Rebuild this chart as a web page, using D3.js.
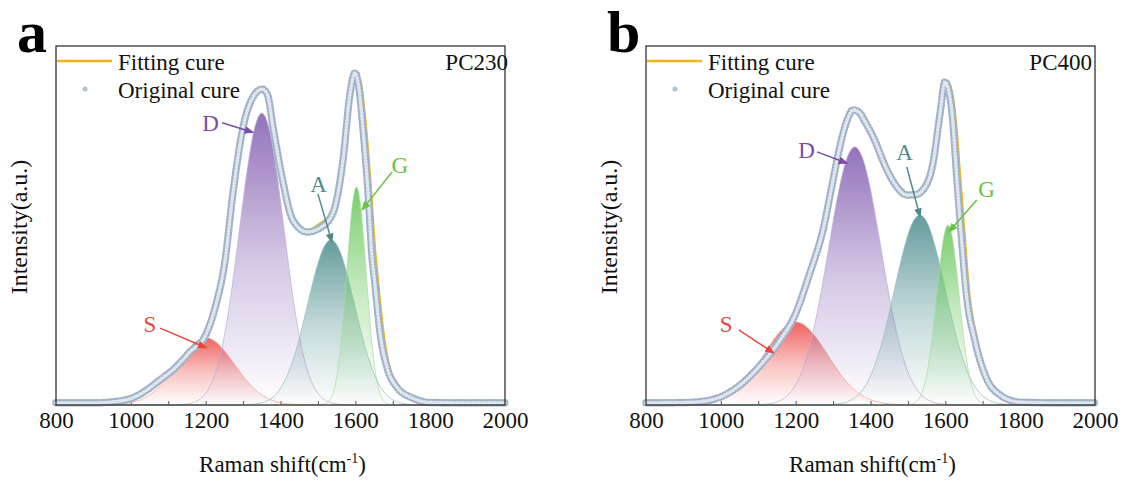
<!DOCTYPE html>
<html>
<head>
<meta charset="utf-8">
<script src="https://cdn.jsdelivr.net/npm/d3@7/dist/d3.min.js"></script>
<style>
  html, body { margin: 0; padding: 0; background: #ffffff; }
  svg { display: block; }
  text { font-family: "Liberation Serif", "Times New Roman", serif; }
</style>
</head>
<body>
<svg id="chart" width="1123" height="481"></svg>
<script>
// ---------- data ----------
// Raman shift axis (cm-1)
const xTicks = [800, 1000, 1200, 1400, 1600, 1800, 2000];
const peakNames = ["S", "D", "A", "G"];
const sampleNames = ["PC230", "PC400"];

// Measured spectrum [shift, intensity] — PC230
const pc230Original = [
  [800, 0.6], [900, 0.6], [960, 1.0], [1003, 1.9], [1040, 4.0], [1078, 7.0],
  [1118, 10.3], [1158, 14.8], [1200, 19.5], [1225, 27], [1252, 40.4], [1273, 59.1],
  [1300, 77.4], [1325, 85.5], [1351, 88.0], [1365, 86.5], [1380, 77.4], [1404, 63.5],
  [1433, 51.5], [1471, 48.2], [1505, 49.3], [1540, 53.5], [1567, 68.2], [1586, 86.9],
  [1599, 92.5], [1610, 88.0], [1620, 77.4], [1634, 59.1], [1644, 42.0], [1652, 34.0],
  [1666, 20.1], [1684, 10.7], [1710, 5.1], [1754, 1.9], [1800, 0.7], [1900, 0.6], [2000, 0.6]
];
// Fitted envelope — PC230
const pc230Fit = [
  [800, 0.3], [900, 0.4], [960, 0.8], [1003, 1.5], [1040, 3.3], [1078, 6.2],
  [1118, 9.8], [1158, 14.5], [1200, 19.5], [1225, 27], [1252, 40.4], [1273, 59.1],
  [1300, 77.4], [1325, 85.5], [1351, 88.0], [1365, 86.5], [1380, 77.4], [1404, 63.5],
  [1433, 51.5], [1471, 48.6], [1505, 50.5], [1540, 54.0], [1567, 68.2], [1586, 86.9],
  [1599, 92.5], [1613, 90.5], [1626, 80.0], [1641, 61.0], [1652, 44.0], [1660, 35.0],
  [1674, 21.0], [1690, 11.0], [1714, 5.2], [1756, 1.8], [1800, 0.6], [1900, 0.3], [2000, 0.3]
];
// Fitted bands — PC230
const pc230S = [
  [800, 0], [950, 0.1], [1000, 0.64], [1025, 1.4], [1050, 2.8], [1075, 5.0], [1100, 8.0],
  [1125, 11.6], [1150, 15.1], [1175, 17.7], [1200, 18.7], [1225, 17.7], [1250, 15.1],
  [1275, 11.6], [1300, 8.0], [1325, 5.0], [1350, 2.8], [1375, 1.4], [1400, 0.64],
  [1450, 0.1], [1600, 0], [2000, 0]
];
const pc230D = [
  [800, 0], [1110, 0], [1150, 0.26], [1170, 0.8], [1190, 2.1], [1210, 4.9], [1230, 10.3],
  [1250, 19.3], [1270, 32.4], [1290, 48.5], [1310, 64.6], [1330, 76.8], [1350, 81.3],
  [1370, 76.8], [1390, 64.6], [1410, 48.5], [1430, 32.4], [1450, 19.3], [1470, 10.3],
  [1490, 4.9], [1510, 2.1], [1530, 0.8], [1550, 0.26], [1590, 0], [2000, 0]
];
const pc230A = [
  [800, 0], [1295, 0], [1335, 0.3], [1355, 0.78], [1375, 1.8], [1395, 3.9], [1415, 7.5],
  [1435, 13.0], [1455, 20.5], [1475, 29.2], [1495, 37.6], [1515, 43.7], [1535, 46.0],
  [1555, 43.7], [1575, 37.6], [1595, 29.2], [1615, 20.5], [1635, 13.0], [1655, 7.5],
  [1675, 3.9], [1695, 1.8], [1715, 0.78], [1735, 0.3], [1775, 0], [2000, 0]
];
const pc230G = [
  [800, 0], [1503, 0], [1523, 0.5], [1533, 1.6], [1543, 4.2], [1553, 9.6], [1563, 18.6],
  [1573, 31.2], [1583, 45.1], [1593, 56.4], [1603, 60.7], [1613, 56.4], [1623, 45.1],
  [1633, 31.2], [1643, 18.6], [1653, 9.6], [1663, 4.2], [1673, 1.6], [1683, 0.5],
  [1703, 0], [2000, 0]
];

// Measured spectrum [shift, intensity] — PC400
const pc400Original = [
  [800, 0.6], [900, 0.7], [950, 1.0], [998, 2.2], [1051, 5.5], [1105, 11.0],
  [1158, 18.0], [1198, 25.0], [1238, 36.8], [1273, 48.7], [1300, 62.7], [1318, 71.9],
  [1340, 80.0], [1353, 82.2], [1370, 81.5], [1385, 79.0], [1407, 74.7], [1444, 65.5],
  [1471, 60.7], [1497, 58.5], [1520, 58.6], [1540, 59.9], [1567, 67.4], [1586, 81.3],
  [1599, 90.0], [1608, 88.0], [1618, 81.3], [1631, 62.7], [1645, 44.0], [1655, 32.0],
  [1679, 18.0], [1706, 8.4], [1746, 2.8], [1800, 0.8], [1900, 0.6], [2000, 0.6]
];
// Fitted envelope — PC400
const pc400Fit = [
  [800, 0.3], [900, 0.4], [950, 0.8], [998, 1.8], [1051, 5.0], [1105, 10.6],
  [1158, 17.6], [1198, 25.0], [1238, 36.8], [1273, 48.7], [1300, 62.7], [1318, 71.9],
  [1340, 80.0], [1353, 82.2], [1370, 81.5], [1385, 79.0], [1407, 74.7], [1444, 65.5],
  [1471, 60.7], [1497, 58.5], [1520, 58.6], [1540, 59.9], [1567, 67.4], [1586, 81.3],
  [1599, 90.0], [1610, 89.5], [1626, 81.0], [1640, 63.0], [1653, 45.0], [1662, 33.0],
  [1684, 18.5], [1710, 8.5], [1750, 2.8], [1800, 0.7], [1900, 0.3], [2000, 0.3]
];
// Fitted bands — PC400
const pc400S = [
  [800, 0], [900, 0], [950, 0.3], [975, 0.7], [1000, 1.45], [1025, 2.8], [1050, 4.9],
  [1075, 7.8], [1100, 11.6], [1125, 15.7], [1150, 19.4], [1175, 22.1], [1200, 23.1],
  [1225, 22.1], [1250, 19.4], [1275, 15.7], [1300, 11.6], [1325, 7.8], [1350, 4.9],
  [1375, 2.8], [1400, 1.45], [1425, 0.7], [1450, 0.3], [1500, 0], [2000, 0]
];
const pc400D = [
  [800, 0], [1078, 0], [1118, 0.2], [1138, 0.5], [1158, 1.2], [1178, 2.6], [1198, 5.3],
  [1218, 9.7], [1238, 16.5], [1258, 25.9], [1278, 37.4], [1298, 49.8], [1318, 61.1],
  [1338, 69.0], [1358, 71.9], [1378, 69.0], [1398, 61.1], [1418, 49.8], [1438, 37.4],
  [1458, 25.9], [1478, 16.5], [1498, 9.7], [1518, 5.3], [1538, 2.6], [1558, 1.2],
  [1578, 0.5], [1598, 0.2], [1638, 0], [2000, 0]
];
const pc400A = [
  [800, 0], [1272, 0], [1312, 0.3], [1332, 0.7], [1352, 1.6], [1372, 3.3], [1392, 6.4],
  [1412, 11.2], [1432, 17.9], [1452, 26.5], [1472, 35.9], [1492, 44.5], [1512, 50.7],
  [1532, 52.9], [1552, 50.7], [1572, 44.5], [1592, 35.9], [1612, 26.5], [1632, 17.9],
  [1652, 11.2], [1672, 6.4], [1692, 3.3], [1712, 1.6], [1732, 0.7], [1752, 0.3],
  [1792, 0], [2000, 0]
];
const pc400G = [
  [800, 0], [1487, 0], [1507, 0.2], [1517, 0.56], [1527, 1.4], [1537, 3.3], [1547, 6.8],
  [1557, 12.5], [1567, 20.6], [1577, 30.4], [1587, 40.1], [1597, 47.4], [1607, 50.1],
  [1617, 47.4], [1627, 40.1], [1637, 30.4], [1647, 20.6], [1657, 12.5], [1667, 6.8],
  [1677, 3.3], [1687, 1.4], [1697, 0.56], [1707, 0.2], [1727, 0], [2000, 0]
];

// Band annotations: label anchor and arrow [fromX, fromY, toX, toY] in data units
const pc230Labels = [[1051, 20.3], [1213, 76.3], [1502, 59.3], [1719, 64.6]];
const pc230Arrows = [
  [1078, 21.4, 1200, 16.0], [1244, 78.6, 1325, 76.0],
  [1500, 58.8, 1537, 45.6], [1698, 64.9, 1619, 54.5]
];
const pc400Labels = [[1014, 20.3], [1229, 68.8], [1491, 68.2], [1710, 57.9]];
const pc400Arrows = [
  [1048, 20.9, 1140, 14.6], [1257, 70.5, 1336, 67.4],
  [1497, 66.3, 1532, 52.6], [1684, 57.1, 1611, 48.4]
];

// ---------- styling ----------
const bandColors = {
  S: { label: "#e8463e", fill: "#ef5c58", line: "#f2a3a0" },
  D: { label: "#7a4ea6", fill: "#8d6bb8", line: "#bcaad6" },
  A: { label: "#4f8b8b", fill: "#5c9797", line: "#98bdbd" },
  G: { label: "#67c341", fill: "#72cc66", line: "#a6dc9d" }
};

const panels = [
  { letter: "a", name: sampleNames[0], left: 56, right: 505, original: pc230Original,
    fit: pc230Fit, bands: [pc230S, pc230D, pc230A, pc230G],
    labels: pc230Labels, arrows: pc230Arrows, nameEnd: 508 },
  { letter: "b", name: sampleNames[1], left: 646, right: 1095, original: pc400Original,
    fit: pc400Fit, bands: [pc400S, pc400D, pc400A, pc400G],
    labels: pc400Labels, arrows: pc400Arrows, nameEnd: 1092 }
];

const plotTop = 46, plotBottom = 405;
const svg = d3.select("#chart");
const defs = svg.append("defs");

// vertical fade gradients for band fills, and arrowheads
peakNames.forEach(p => {
  const g = defs.append("linearGradient")
    .attr("id", "grad-" + p)
    .attr("x1", 0).attr("y1", 0).attr("x2", 0).attr("y2", 1);
  g.append("stop").attr("offset", "0%").attr("stop-color", bandColors[p].fill).attr("stop-opacity", 0.95);
  g.append("stop").attr("offset", "50%").attr("stop-color", bandColors[p].fill).attr("stop-opacity", 0.38);
  g.append("stop").attr("offset", "100%").attr("stop-color", bandColors[p].fill).attr("stop-opacity", 0.0);
  defs.append("marker")
    .attr("id", "arrow-" + p)
    .attr("viewBox", "0 0 10 10")
    .attr("refX", 8).attr("refY", 5)
    .attr("markerWidth", 6.5).attr("markerHeight", 6.5)
    .attr("markerUnits", "strokeWidth")
    .attr("orient", "auto")
    .append("path")
    .attr("d", "M0,1 L10,5 L0,9 Z")
    .attr("fill", bandColors[p].label);
});

panels.forEach(panel => {
  const x = d3.scaleLinear().domain([800, 2000]).range([panel.left, panel.right]);
  const y = d3.scaleLinear().domain([0, 100]).range([plotBottom, plotTop]);
  const g = svg.append("g");

  // x axis with inward ticks every 100 cm-1
  const axis = d3.axisBottom(x)
    .tickValues(d3.range(800, 2001, 100))
    .tickSize(-4)
    .tickPadding(7)
    .tickFormat(d => xTicks.includes(d) ? d : "");
  const ax = g.append("g").attr("transform", `translate(0,${plotBottom})`).call(axis);
  ax.select(".domain").remove();
  ax.selectAll(".tick line").attr("stroke", "#555").attr("stroke-width", 1);
  ax.selectAll(".tick text")
    .attr("font-size", 23)
    .attr("fill", "#111");

  const area = d3.area()
    .x(d => x(d[0])).y0(y(0)).y1(d => y(d[1]))
    .curve(d3.curveMonotoneX);
  const line = d3.line()
    .x(d => x(d[0])).y(d => y(d[1]))
    .curve(d3.curveMonotoneX);

  // fitted bands
  panel.bands.forEach((band, i) => {
    const p = peakNames[i];
    g.append("path").datum(band)
      .attr("d", area)
      .attr("fill", `url(#grad-${p})`);
    g.append("path").datum(band)
      .attr("d", line)
      .attr("fill", "none")
      .attr("stroke", bandColors[p].line)
      .attr("stroke-width", 0.7);
  });

  // fitted envelope
  g.append("path").datum(panel.fit)
    .attr("d", line)
    .attr("fill", "none")
    .attr("stroke", "#f4b41a")
    .attr("stroke-width", 2.4);

  // measured spectrum as overlapping markers
  g.append("path").datum(panel.original)
    .attr("d", line)
    .attr("fill", "none")
    .attr("stroke", "#9fb2c8")
    .attr("stroke-width", 7.5)
    .attr("stroke-linecap", "round")
    .attr("stroke-dasharray", "0 3.2");
  g.append("path").datum(panel.original)
    .attr("d", line)
    .attr("fill", "none")
    .attr("stroke", "#dfe6ee")
    .attr("stroke-width", 3.8)
    .attr("stroke-linecap", "round")
    .attr("stroke-dasharray", "0 3.2");

  // band labels and arrows
  panel.arrows.forEach((a, i) => {
    const p = peakNames[i];
    g.append("line")
      .attr("x1", x(a[0])).attr("y1", y(a[1]))
      .attr("x2", x(a[2])).attr("y2", y(a[3]))
      .attr("stroke", bandColors[p].label)
      .attr("stroke-width", 1.5)
      .attr("marker-end", `url(#arrow-${p})`);
  });
  panel.labels.forEach((l, i) => {
    const p = peakNames[i];
    g.append("text")
      .attr("x", x(l[0])).attr("y", y(l[1]))
      .attr("text-anchor", "middle")
      .attr("font-size", 23)
      .attr("fill", bandColors[p].label)
      .text(p);
  });

  // plot frame
  g.append("rect")
    .attr("x", panel.left).attr("y", plotTop)
    .attr("width", panel.right - panel.left).attr("height", plotBottom - plotTop)
    .attr("fill", "none").attr("stroke", "#333").attr("stroke-width", 1.3);

  // legend
  g.append("line")
    .attr("x1", panel.left + 1).attr("x2", panel.left + 56)
    .attr("y1", 61).attr("y2", 61)
    .attr("stroke", "#f4b41a").attr("stroke-width", 2.4);
  g.append("text").attr("x", panel.left + 62).attr("y", 70)
    .attr("font-size", 23).attr("fill", "#111").text("Fitting cure");
  g.append("circle").attr("cx", panel.left + 29).attr("cy", 89).attr("r", 2.2)
    .attr("fill", "#b9c6d6").attr("stroke", "#9fb1c6").attr("stroke-width", 0.6);
  g.append("text").attr("x", panel.left + 62).attr("y", 98)
    .attr("font-size", 23).attr("fill", "#111").text("Original cure");

  // sample name
  g.append("text").attr("x", panel.nameEnd).attr("y", 70)
    .attr("text-anchor", "end").attr("font-size", 23).attr("fill", "#111")
    .text(panel.name);

  // axis titles
  const xt = g.append("text")
    .attr("x", (panel.left + panel.right) / 2 + 2).attr("y", 472)
    .attr("text-anchor", "middle").attr("font-size", 23).attr("fill", "#111");
  xt.append("tspan").text("Raman shift(cm");
  xt.append("tspan").attr("font-size", 14).attr("dy", -9).text("-1");
  xt.append("tspan").attr("dy", 9).text(")");

  g.append("text")
    .attr("transform", `translate(${panel.left - 29},227) rotate(-90)`)
    .attr("text-anchor", "middle").attr("font-size", 24).attr("fill", "#111")
    .text("Intensity(a.u.)");

  // panel letter
  g.append("text")
    .attr("x", panel.left - 39).attr("y", 52)
    .attr("font-size", 60).attr("font-weight", "bold").attr("fill", "#000")
    .text(panel.letter);
});
</script>
</body>
</html>
